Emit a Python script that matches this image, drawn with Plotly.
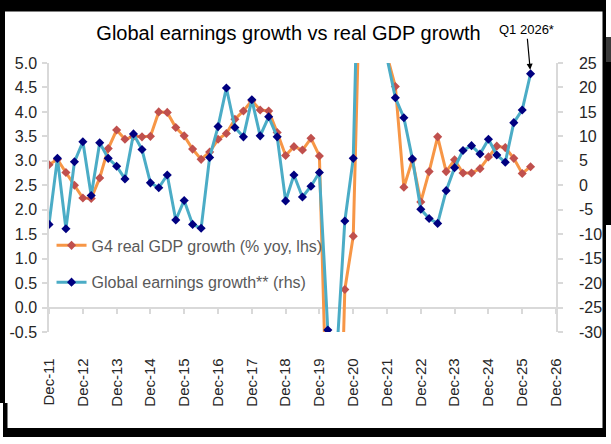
import pandas as pd
import plotly.graph_objects as go

# ---------------- data ----------------
quarters = pd.date_range("2011-12-01", periods=58, freq="3MS")

gdp_growth = [2.92, 3.03, 2.76, 2.50, 2.24, 2.23, 2.65, 3.25, 3.63, 3.44,
              3.50, 3.49, 3.50, 4.00, 3.99, 3.68, 3.51, 3.24, 3.03, 3.18,
              3.44, 3.56, 3.85, 4.02, 4.23, 4.04, 4.02, 3.58, 3.11, 3.29,
              3.22, 3.46, 3.10, -3.0, -6.0, 0.37, 1.46, 8.0, 12.0, 6.0,
              5.15, 4.52, 2.46, 3.02, 2.16, 2.78, 3.49, 2.78, 3.02, 2.75,
              2.75, 2.84, 3.08, 3.30, 3.27, 3.05, 2.74, 2.88]

earnings_growth = [-8.0, 5.5, -8.9, 4.8, 8.9, -2.1, 8.7, 5.5, 3.9, 1.3,
                   10.5, 7.3, 0.5, -0.5, 2.1, -7.1, -3.1, -8.0, -8.8, 5.7,
                   12.0, 19.9, 11.8, 9.9, 17.5, 10.1, 14.0, 9.9, -3.2, 2.1,
                   -2.4, -0.2, 2.6, -29.6, -36.0, -7.3, 5.5, 75.0, 60.0, 40.0,
                   26.0, 17.9, 13.8, 5.4, -4.9, -6.8, -7.8, -1.1, 3.6, 7.1,
                   8.1, 6.4, 9.4, 6.2, 4.7, 12.8, 15.4, 22.8]

left_ticks = [-0.5, 0.0, 0.5, 1.0, 1.5, 2.0, 2.5, 3.0, 3.5, 4.0, 4.5, 5.0]
left_labels = ["-0.5", "0.0", "0.5", "1.0", "1.5", "2.0", "2.5", "3.0", "3.5", "4.0", "4.5", "5.0"]
right_ticks = [-30, -25, -20, -15, -10, -5, 0, 5, 10, 15, 20, 25]
right_labels = ["-30", "-25", "-20", "-15", "-10", "-5", "0", "5", "10", "15", "20", "25"]

title_text = "Global earnings growth vs real GDP growth"
gdp_name = "G4 real GDP growth (% yoy, lhs)"
earn_name = "Global earnings growth** (rhs)"
note_text = "Q1 2026*"

# ---------------- styling ----------------
W, H = 611, 444
L, R, T, B = 49, 556, 63, 332
FONT = "Liberation Sans, Arial, sans-serif"
AXC = "#D9D9D9"
TXT = "#262626"


def px(x, y):
    return (x - L) / (R - L), (B - y) / (B - T)


fig = go.Figure()
fig.add_trace(go.Scatter(
    x=quarters, y=gdp_growth, name=gdp_name, mode="lines+markers",
    line=dict(color="#F79646", width=3),
    marker=dict(symbol="diamond", size=7, color="#C0504D"),
    legendgroup="a", yaxis="y"))
fig.add_trace(go.Scatter(
    x=quarters, y=earnings_growth, name=earn_name, mode="lines+markers",
    line=dict(color="#4BACC6", width=3),
    marker=dict(symbol="diamond", size=7, color="#000080"),
    legendgroup="b", yaxis="y2"))

shapes = []
frame_rects = [
    (0, 0, 606, 11.5, "black"),      # top
    (0, 0, 5, 403, "black"),         # left upper
    (3, 403, 7.5, 437, "black"),     # left lower
    (3, 428, 604, 437, "black"),     # bottom
    (602.5, 0, 606, 437, "black"),   # right line
    (606, 37, 611, 62, "#3a3a3a"),   # right block grey
    (606, 62, 611, 225, "black"),    # right block
]
for x0, y0, x1, y1, c in frame_rects:
    a0, b0 = px(x0, y1)
    a1, b1 = px(x1, y0)
    shapes.append(dict(type="rect", xref="paper", yref="paper", x0=a0, y0=b0,
                       x1=a1, y1=b1, fillcolor=c, line=dict(width=0), layer="above"))

axis_common = dict(showgrid=False, zeroline=False, showline=True, linecolor=AXC,
                   linewidth=1.5, ticks="outside", ticklen=5, tickcolor=AXC,
                   tickwidth=1.5, tickfont=dict(family=FONT, size=16, color=TXT),
                   layer="below traces", automargin=False)

fig.update_layout(
    width=W, height=H,
    margin=dict(l=L, r=W - R, t=T, b=H - B, pad=0, autoexpand=False),
    paper_bgcolor="white", plot_bgcolor="white",
    font=dict(family=FONT),
    title=dict(text=title_text, font=dict(family=FONT, size=20, color="black"),
               xref="container", yref="container", x=288.5 / W, y=1 - 33 / H,
               xanchor="center", yanchor="middle", automargin=False),
    xaxis=dict(type="date", range=["2011-12-01", "2026-12-01"],
               tick0="2011-12-01", dtick="M12", tickformat="%b-%y",
               tickangle=-90, anchor="free", position=0.5 / 5.5,
               ticklabelstandoff=38, showgrid=False, zeroline=False,
               showline=True, linecolor=AXC, linewidth=1.5, ticks="outside",
               ticklen=6, tickcolor=AXC, tickwidth=1.5, automargin=False,
               tickfont=dict(family=FONT, size=15, color=TXT),
               layer="below traces"),
    yaxis=dict(range=[-0.5, 5.0], tickvals=left_ticks, ticktext=left_labels,
               ticklabelstandoff=2, **axis_common),
    yaxis2=dict(range=[-30, 25], tickvals=right_ticks, ticktext=right_labels,
                overlaying="y", side="right", ticklabelstandoff=13, **axis_common),
    showlegend=True,
    legend=dict(x=0.005, y=0.385, xanchor="left", yanchor="top",
                bgcolor="rgba(0,0,0,0)", traceorder="grouped", tracegroupgap=13,
                font=dict(family=FONT, size=16, color="#595959")),
    shapes=shapes,
    annotations=[dict(x=quarters[-1], y=earnings_growth[-1], xref="x", yref="y2",
                      text=note_text, showarrow=True, arrowhead=2, arrowsize=1,
                      arrowwidth=1.2, arrowcolor="black", ax=-4, ay=-44,
                      standoff=4, font=dict(family=FONT, size=13, color="black"))],
)

fig.write_html("out.html", config={"displayModeBar": False},
               post_script="document.body.style.margin='0';document.body.style.overflow='hidden';")
